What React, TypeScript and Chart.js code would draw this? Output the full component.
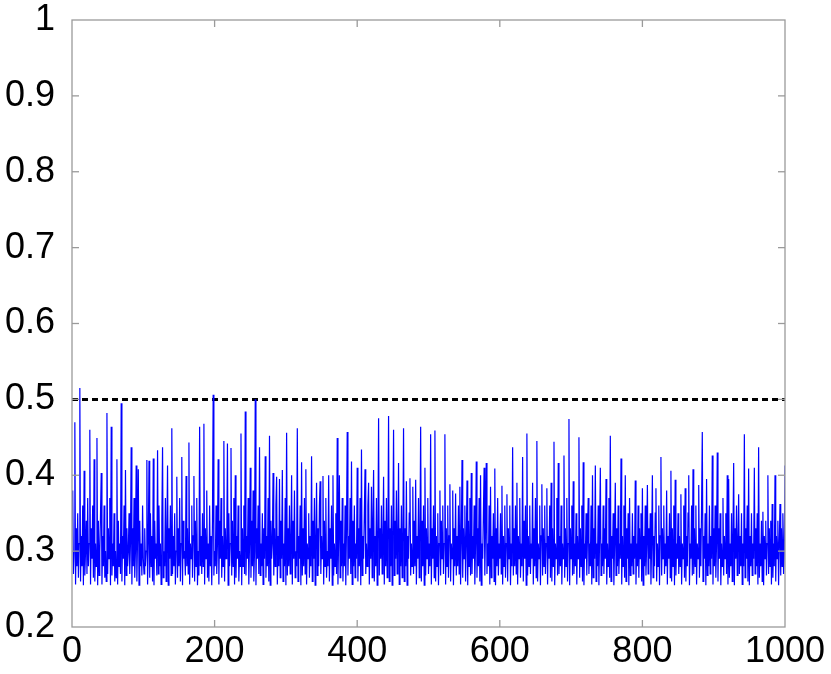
import React, { useEffect, useRef } from "react";
import { Chart, registerables } from "chart.js";

Chart.register(...registerables);

// Threshold level (dashed line)
const THRESHOLD = 0.5;
const X_MIN = 0;
const X_MAX = 1000;
const Y_MIN = 0.2;
const Y_MAX = 1;
const X_STEP = 200;
const Y_STEP = 0.1;

// Series values (index 1..1000), read row by row (20 per row)
const seriesValues: number[] = [
  .38, .27, .30, .47, .256, .33, .28, .35, .265, .31, .515, .26, .32, .28, .36, .255, .406, .268, .30, .34,
  .27, .37, .28, .31, .46, .256, .33, .29, .36, .265, .421, .26, .31, .28, .449, .255, .34, .268, .30, .35,
  .403, .256, .32, .28, .36, .265, .30, .26, .482, .27, .33, .29, .37, .255, .464, .268, .31, .28, .35, .26,
  .30, .265, .421, .256, .34, .28, .31, .27, .495, .26, .32, .29, .36, .255, .407, .268, .33, .28, .30, .35,
  .27, .31, .437, .256, .33, .28, .37, .265, .30, .413, .26, .32, .408, .255, .34, .28, .31, .268, .36, .29,
  .27, .33, .28, .30, .42, .256, .31, .419, .265, .35, .28, .32, .26, .422, .255, .34, .29, .31, .268, .433,
  .27, .36, .28, .31, .256, .34, .437, .265, .30, .28, .37, .26, .32, .413, .255, .33, .29, .36, .268, .462,
  .27, .32, .28, .35, .256, .30, .398, .265, .33, .28, .37, .26, .31, .424, .255, .34, .29, .30, .268, .399,
  .28, .33, .27, .443, .256, .31, .29, .36, .265, .32, .399, .26, .34, .28, .37, .255, .30, .268, .464, .28,
  .32, .27, .35, .28, .468, .256, .33, .29, .38, .265, .31, .26, .36, .28, .32, .255, .34, .506, .268, .30,
  .28, .36, .27, .31, .421, .256, .34, .29, .37, .265, .32, .28, .445, .26, .33, .29, .30, .442, .255, .35,
  .28, .31, .436, .268, .34, .28, .37, .256, .40, .265, .32, .29, .36, .26, .30, .28, .455, .255, .33, .28,
  .36, .27, .484, .268, .32, .29, .37, .256, .31, .41, .265, .34, .28, .38, .26, .30, .50, .255, .33, .29,
  .36, .27, .437, .268, .31, .28, .35, .256, .33, .29, .425, .265, .32, .28, .37, .26, .452, .255, .34, .29,
  .31, .403, .268, .33, .28, .36, .398, .256, .32, .28, .395, .265, .34, .29, .407, .26, .31, .28, .37, .255,
  .456, .268, .33, .28, .36, .27, .31, .40, .256, .34, .29, .38, .265, .30, .28, .462, .26, .32, .29, .36,
  .255, .417, .268, .33, .28, .37, .27, .408, .256, .31, .29, .35, .265, .32, .28, .425, .26, .34, .29, .37,
  .255, .31, .39, .268, .33, .28, .36, .392, .27, .32, .29, .399, .256, .34, .28, .37, .265, .30, .28, .40,
  .26, .33, .29, .36, .255, .40, .268, .31, .28, .35, .27, .449, .256, .32, .40, .265, .34, .28, .37, .26,
  .31, .28, .36, .255, .33, .457, .268, .32, .29, .37, .27, .418, .256, .34, .28, .36, .265, .31, .29, .41,
  .26, .33, .28, .37, .255, .434, .268, .32, .29, .35, .408, .27, .31, .28, .36, .39, .256, .33, .29, .385,
  .265, .34, .407, .26, .32, .28, .37, .255, .31, .475, .268, .33, .29, .36, .27, .31, .398, .256, .34, .28,
  .37, .265, .31, .478, .26, .33, .28, .36, .255, .32, .46, .268, .34, .29, .38, .27, .31, .416, .256, .33,
  .28, .36, .265, .31, .462, .26, .33, .28, .392, .255, .32, .29, .35, .396, .268, .31, .28, .385, .27, .34,
  .28, .394, .256, .32, .29, .37, .265, .31, .464, .26, .34, .28, .36, .255, .41, .268, .33, .29, .37, .27,
  .31, .28, .454, .256, .33, .29, .36, .265, .459, .26, .32, .28, .35, .255, .31, .38, .268, .34, .29, .36,
  .27, .31, .454, .256, .33, .28, .36, .265, .32, .388, .26, .31, .29, .38, .255, .33, .28, .376, .268, .32,
  .28, .36, .27, .385, .256, .31, .42, .265, .33, .29, .36, .26, .31, .393, .255, .34, .28, .37, .268, .403,
  .27, .32, .29, .36, .256, .31, .418, .265, .33, .28, .37, .26, .40, .255, .31, .29, .35, .41, .268, .33,
  .416, .27, .31, .28, .36, .256, .385, .265, .32, .29, .35, .26, .409, .255, .33, .28, .37, .268, .31, .29,
  .35, .27, .386, .256, .32, .28, .36, .265, .31, .375, .26, .33, .29, .36, .255, .31, .28, .437, .268, .33,
  .28, .36, .27, .39, .256, .32, .29, .37, .265, .31, .28, .424, .26, .34, .29, .36, .255, .455, .268, .32,
  .28, .36, .27, .31, .29, .39, .256, .33, .28, .37, .265, .445, .26, .31, .29, .36, .255, .32, .388, .268,
  .33, .28, .36, .27, .31, .383, .256, .32, .29, .36, .265, .39, .26, .33, .28, .444, .255, .31, .29, .37,
  .268, .416, .27, .32, .28, .36, .256, .31, .29, .426, .265, .33, .28, .37, .26, .31, .474, .255, .33, .29,
  .36, .268, .392, .27, .31, .28, .35, .256, .32, .29, .45, .265, .33, .28, .36, .26, .417, .255, .31, .29,
  .35, .268, .32, .37, .27, .31, .28, .36, .256, .40, .265, .33, .29, .413, .26, .31, .28, .36, .255, .32,
  .41, .268, .31, .28, .36, .27, .33, .29, .395, .256, .31, .28, .37, .265, .452, .26, .32, .29, .35, .255,
  .31, .39, .268, .33, .28, .36, .27, .31, .29, .422, .256, .32, .28, .36, .265, .40, .26, .33, .29, .35,
  .255, .37, .268, .31, .28, .35, .27, .32, .29, .393, .256, .31, .28, .36, .265, .33, .29, .35, .26, .383,
  .255, .32, .28, .36, .268, .31, .387, .27, .33, .29, .35, .256, .31, .40, .265, .32, .28, .35, .383, .26,
  .31, .28, .36, .255, .32, .424, .268, .33, .29, .36, .27, .31, .28, .38, .256, .32, .29, .35, .265, .406,
  .26, .33, .28, .36, .255, .394, .268, .31, .29, .35, .27, .32, .28, .375, .256, .31, .29, .36, .265, .383,
  .26, .32, .28, .35, .40, .255, .31, .29, .36, .268, .408, .27, .33, .28, .36, .256, .31, .29, .387, .265,
  .33, .28, .36, .457, .26, .32, .29, .35, .255, .395, .268, .31, .28, .36, .27, .32, .29, .426, .256, .33,
  .28, .36, .265, .31, .43, .26, .33, .29, .35, .255, .31, .28, .37, .268, .32, .29, .35, .27, .40, .256,
  .395, .265, .31, .28, .35, .26, .32, .416, .255, .33, .29, .36, .268, .31, .375, .27, .32, .28, .35, .256,
  .31, .28, .454, .265, .33, .29, .36, .26, .409, .255, .32, .28, .35, .268, .31, .29, .41, .27, .33, .28,
  .35, .256, .437, .265, .31, .28, .34, .26, .352, .255, .32, .29, .34, .268, .31, .40, .27, .33, .28, .34,
  .256, .362, .265, .31, .28, .40, .26, .32, .29, .34, .255, .31, .362, .268, .33, .28, .35, .27, .30, .413,
];

const FONT_FAMILY = "'Liberation Sans', 'DejaVu Sans', sans-serif";

const framePlugin = {
  id: "frameTicks",
  afterDraw(chart: any) {
    const { ctx, chartArea: a, scales } = chart;
    const L = 7;
    ctx.save();
    ctx.strokeStyle = "#9a9a9a";
    ctx.lineWidth = 1.3;
    const seg = (x1: number, y1: number, x2: number, y2: number) => {
      ctx.beginPath();
      ctx.moveTo(x1, y1);
      ctx.lineTo(x2, y2);
      ctx.stroke();
    };
    scales.x.ticks.forEach((t: any) => {
      const px = scales.x.getPixelForValue(t.value);
      if (px <= a.left + 1 || px >= a.right - 1) return;
      seg(px, a.bottom, px, a.bottom - L);
      seg(px, a.top, px, a.top + L);
    });
    scales.y.ticks.forEach((t: any) => {
      const py = scales.y.getPixelForValue(t.value);
      if (py <= a.top + 1 || py >= a.bottom - 1) return;
      seg(a.left, py, a.left + L, py);
      seg(a.right, py, a.right - L, py);
    });
    ctx.strokeRect(a.left, a.top, a.right - a.left, a.bottom - a.top);
    ctx.restore();
  },
};

export default function App() {
  const canvasRef = useRef<HTMLCanvasElement | null>(null);

  useEffect(() => {
    if (!canvasRef.current) return;
    const points = seriesValues.map((v, i) => ({ x: i + 1, y: v }));
    const chart = new Chart(canvasRef.current, {
      type: "line",
      data: {
        datasets: [
          {
            data: points,
            borderColor: "#0000ff",
            borderWidth: 1.2,
            pointRadius: 0,
            tension: 0,
            fill: false,
          },
          {
            data: [
              { x: X_MIN, y: THRESHOLD },
              { x: X_MAX, y: THRESHOLD },
            ],
            borderColor: "#000000",
            borderWidth: 3,
            borderDash: [6, 4],
            pointRadius: 0,
            fill: false,
          },
        ],
      },
      options: {
        responsive: false,
        animation: false,
        events: [],
        layout: { padding: { top: 20, right: 46, left: 0, bottom: 0 } },
        plugins: { legend: { display: false }, tooltip: { enabled: false } },
        scales: {
          x: {
            type: "linear",
            min: X_MIN,
            max: X_MAX,
            grid: { display: false, drawTicks: false },
            border: { display: false },
            ticks: {
              stepSize: X_STEP,
              maxRotation: 0,
              color: "#000",
              padding: 7,
              font: { family: FONT_FAMILY, size: 36, lineHeight: 1 },
              callback: (v: any) => String(Math.round(Number(v))),
            },
            afterFit: (s: any) => {
              s.height = 47;
              s.paddingLeft = 0;
              s.paddingRight = 0;
            },
          },
          y: {
            type: "linear",
            min: Y_MIN,
            max: Y_MAX,
            grid: { display: false, drawTicks: false },
            border: { display: false },
            ticks: {
              stepSize: Y_STEP,
              color: "#000",
              padding: 17,
              font: { family: FONT_FAMILY, size: 36, lineHeight: 1 },
              callback: (v: any) => String(Math.round(Number(v) * 10) / 10),
            },
            afterFit: (s: any) => {
              s.width = 72;
              s.paddingTop = 0;
              s.paddingBottom = 0;
            },
          },
        },
      },
      plugins: [framePlugin],
    });
    return () => chart.destroy();
  }, []);

  return (
    <div style={{ position: "fixed", left: 0, top: 0, width: 831, height: 674, background: "#fff" }}>
      <canvas ref={canvasRef} width={831} height={674} style={{ width: 831, height: 674 }} />
    </div>
  );
}
